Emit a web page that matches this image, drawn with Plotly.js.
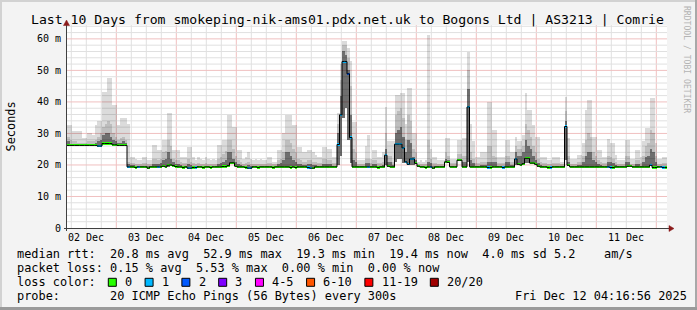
<!DOCTYPE html>
<html><head><meta charset="utf-8">
<script src="https://cdn.plot.ly/plotly-3.0.1.min.js"></script>
<style>html,body{margin:0;padding:0;background:#f3f3f3;}#chart{width:697px;height:310px;}</style>
</head><body><div id="chart"></div>
<script>
// time axis: hours since 02 Dec 00:00; graph spans 02 Dec 04:17 -> 12 Dec 04:17, one sample per hour
const startHour = 4.28;
const stepHours = 1;
const dayGridHours = [24,48,72,96,120,144,168,192,216,240];
const dayLabelHours = [12,36,60,84,108,132,156,180,204,228];
const dayLabels = ["02 Dec","03 Dec","04 Dec","05 Dec","06 Dec","07 Dec","08 Dec","09 Dec","10 Dec","11 Dec"];
const yTickVals = [0,10,20,30,40,50,60];
const yTickText = ["0","10 m","20 m","30 m","40 m","50 m","60 m"];

// median rtt (ms)
const median = [
26.2,26.2,26.2,26.2,26.2,26.2,26.2,26.2,26.2,26.2,
26.2,26.2,26.0,26.0,26.8,26.8,26.8,26.8,26.4,26.4,
26.2,26.2,26.2,26.2,19.4,19.4,19.4,19.2,19.4,19.4,
19.4,19.4,19.0,19.4,19.4,19.4,19.4,19.4,19.6,19.4,
19.9,20.0,19.8,19.5,19.4,19.4,19.2,19.4,19.0,19.0,
19.2,19.2,19.4,19.4,19.2,19.4,19.4,19.2,19.4,19.4,
19.4,19.4,19.5,19.5,19.8,20.7,20.7,19.6,19.4,19.4,
19.4,19.2,19.0,19.0,19.4,19.4,19.2,19.4,19.4,19.4,
19.4,19.4,19.2,19.4,19.4,19.4,19.4,19.4,19.4,19.2,
19.4,19.2,19.4,19.4,19.4,19.4,19.2,19.0,19.0,19.4,
19.4,19.4,19.4,19.4,19.4,19.4,19.4,19.4,26.5,35.9,
52.8,52.8,48.9,28.7,19.4,19.4,19.4,19.4,19.4,19.4,
19.4,19.4,19.4,19.4,19.2,19.4,19.4,23.1,19.6,19.4,
19.4,26.6,26.6,26.6,25.4,21.0,20.2,21.9,21.9,20.5,
19.6,19.4,19.4,19.2,19.4,19.4,19.0,19.4,19.4,19.4,
19.4,21.0,20.8,19.4,19.4,19.4,21.5,21.5,19.4,19.4,
38.4,19.4,19.4,19.4,19.4,19.4,19.4,19.4,19.2,19.2,
19.4,19.4,19.4,19.4,19.2,19.4,19.4,19.4,19.4,21.9,
20.2,20.0,20.4,22.1,22.1,20.6,20.6,20.2,19.6,19.4,
19.4,19.4,19.2,19.2,19.4,19.4,19.4,19.4,19.4,32.2,
19.9,19.4,19.4,19.4,19.4,19.4,19.4,19.4,19.4,19.4,
19.4,19.4,19.4,19.4,19.4,19.4,19.4,19.2,19.2,19.4,
19.4,19.4,19.4,19.4,19.6,19.6,19.4,19.4,19.4,19.4,
19.4,19.4,19.4,19.9,19.2,19.2,19.4,19.4,19.2,19.2];

// lost pings per sample (0..20)
const loss = [
0,0,0,0,0,0,0,0,0,0, 0,0,1,1,0,0,0,0,0,0, 0,0,0,0,1,0,0,0,1,0, 0,0,0,0,0,0,1,0,0,0,
0,0,0,0,0,0,0,0,1,1, 0,1,0,0,0,0,0,0,0,0, 0,0,0,0,0,0,0,0,0,0, 0,0,1,1,0,0,0,0,0,0,
0,0,0,0,0,0,0,0,0,0, 0,0,0,0,0,0,1,1,0,0, 0,0,0,0,0,0,0,0,1,1, 1,1,2,1,0,0,0,0,0,0,
1,0,0,0,0,0,0,1,0,0, 0,1,1,1,1,1,1,1,1,0, 0,0,0,0,0,1,0,0,0,0, 0,0,0,0,0,0,0,0,0,0,
1,0,0,0,0,0,0,0,1,0, 0,0,0,0,1,0,0,0,0,1, 0,0,0,0,0,0,0,0,0,0, 0,0,0,1,0,0,0,0,0,1,
0,0,0,0,0,0,0,0,0,0, 0,0,0,0,0,0,1,1,0,0, 0,0,0,0,0,0,0,0,0,0, 0,0,0,1,0,0,0,1,1,0];

// smoke: highest ping (ms)
const smokeHi = [
32.7,32.7,30.8,30.8,30.8,30.8,28.4,28.4,30.0,30.0,
29.5,32.7,33.8,33.8,43.0,43.0,47.7,47.7,39.0,39.0,
32.7,35.0,34.8,34.8,33.0,22.6,22.6,22.0,21.5,21.5,
22.6,22.6,21.5,21.5,26.3,26.3,24.7,24.7,27.9,27.9,
36.4,36.4,24.7,24.7,24.7,22.6,22.6,22.6,25.8,25.8,
22.6,21.5,22.6,22.0,21.5,22.6,22.0,21.5,22.0,21.5,
26.3,26.3,27.9,27.9,36.0,36.0,32.2,32.2,24.7,24.7,
22.0,22.6,24.0,22.0,21.5,22.0,21.5,22.0,21.5,21.5,
22.6,22.6,21.0,21.0,24.7,24.7,30.0,35.9,35.9,35.9,
32.7,32.7,25.8,25.8,24.0,24.0,24.7,24.7,24.0,23.3,
22.6,22.6,25.8,25.8,25.2,25.2,22.6,22.6,36.5,52.0,
59.4,59.4,57.0,53.0,33.7,33.7,21.5,21.5,21.5,26.0,
29.6,22.0,24.7,24.7,22.6,22.6,24.0,38.5,27.5,27.5,
27.5,42.3,42.3,42.8,42.8,33.0,44.3,44.3,30.0,30.0,
21.0,21.5,21.0,21.5,61.3,25.0,22.6,22.6,21.5,21.5,
21.5,28.6,28.6,22.0,22.0,22.0,28.0,28.0,28.6,28.6,
55.9,33.0,27.5,22.6,22.6,24.0,24.0,24.0,40.0,40.0,
31.0,31.0,22.6,22.6,22.6,28.0,28.0,24.0,24.0,28.8,
27.5,27.5,29.6,42.8,37.5,37.5,32.7,29.0,29.0,22.6,
22.6,22.6,21.5,21.5,22.6,22.6,22.6,21.0,21.0,41.7,
28.6,22.0,22.0,22.0,23.3,23.3,27.0,37.5,40.7,40.7,
29.0,29.0,24.7,24.7,22.6,22.6,28.3,27.0,27.0,23.3,
21.5,21.5,21.5,28.0,28.0,22.0,22.0,24.7,24.7,22.6,
27.5,31.6,31.6,41.4,41.4,27.0,22.0,22.0,22.6,22.6];

// smoke: upper middle of the ping spread (ms)
const smokeMid = [
29.0,28.0,27.5,27.5,27.0,27.0,27.0,27.0,27.5,27.5,
27.5,28.0,29.0,30.0,32.0,33.0,34.0,33.0,30.0,29.0,
28.0,28.5,29.0,28.0,21.0,20.5,20.5,20.2,20.2,20.2,
20.5,20.5,20.2,20.2,22.0,22.0,21.5,22.0,24.0,24.5,
28.0,26.0,22.0,21.5,21.5,21.0,20.5,20.5,22.0,21.0,
20.5,20.2,20.5,20.3,20.2,20.5,20.3,20.2,20.4,20.2,
22.0,22.5,23.5,24.5,28.0,28.0,25.0,23.0,21.5,21.0,
20.4,20.5,21.0,20.4,20.2,20.3,20.2,20.3,20.2,20.2,
20.5,20.5,20.2,20.2,21.5,22.0,24.0,28.0,28.0,27.0,
25.0,24.0,22.0,21.5,21.0,21.0,21.5,21.5,21.0,20.8,
20.5,20.5,22.0,22.0,21.5,21.5,20.5,20.5,33.0,47.0,
58.0,58.0,54.0,45.0,25.0,24.0,20.3,20.3,20.3,22.0,
22.0,20.5,21.5,21.5,20.5,20.5,21.0,30.0,23.0,23.0,
21.0,36.0,37.0,38.0,35.0,28.0,36.0,34.0,25.0,24.0,
20.2,20.3,20.2,20.3,28.0,22.0,20.5,20.5,20.2,20.2,
20.2,24.0,23.0,20.5,20.5,20.5,23.5,23.5,23.0,23.0,
50.0,24.0,22.0,20.5,20.5,21.0,21.0,21.0,26.0,26.0,
23.0,22.5,20.5,20.5,20.5,23.0,23.0,21.0,21.0,26.0,
25.0,25.0,26.0,33.0,31.0,29.0,26.0,24.0,22.0,20.8,
20.5,20.5,20.2,20.2,20.5,20.5,20.5,20.2,20.2,37.0,
23.0,20.4,20.4,20.4,20.8,20.8,23.0,28.0,30.0,29.0,
24.0,23.0,21.5,21.0,20.5,20.5,23.0,22.5,22.0,20.8,
20.2,20.2,20.2,23.0,23.0,20.4,20.4,21.5,21.5,20.5,
23.0,26.0,27.0,31.0,30.0,23.0,20.4,20.4,20.5,20.5];

// smoke: dense core of the ping spread (ms)
const smokeDark = [
27.5,26.8,26.5,26.5,26.5,26.5,26.5,26.5,26.5,26.5,
26.5,27.0,27.5,28.0,29.5,30.0,30.0,29.0,28.0,27.5,
27.0,27.0,27.5,27.0,20.2,20.0,20.0,19.8,19.8,19.8,
19.8,19.8,19.6,19.8,20.3,20.3,20.2,20.5,21.5,22.0,
24.0,22.0,20.8,20.3,20.2,20.0,19.8,19.8,20.2,20.0,
19.8,19.8,19.8,19.8,19.7,19.8,19.8,19.7,19.8,19.8,
20.3,20.5,21.0,21.5,24.0,24.0,22.0,20.8,20.2,20.0,
19.8,19.8,20.0,19.8,19.7,19.7,19.7,19.7,19.7,19.7,
19.8,19.8,19.7,19.7,20.2,20.5,21.5,24.0,24.0,23.0,
21.5,21.0,20.3,20.2,20.0,20.0,20.2,20.2,20.0,19.9,
19.8,19.8,20.3,20.3,20.2,20.2,19.8,19.8,30.0,42.0,
56.0,55.0,50.0,36.0,21.5,21.0,19.8,19.8,19.8,20.5,
20.5,19.8,20.2,20.2,19.8,19.8,20.0,25.0,21.0,21.0,
20.0,30.0,31.0,32.0,29.0,24.0,28.0,27.0,22.5,21.5,
19.8,19.8,19.8,19.8,21.0,20.5,19.8,19.8,19.7,19.7,
19.7,22.0,21.5,19.8,19.8,19.8,22.0,22.0,21.0,21.0,
44.0,21.5,20.5,19.8,19.8,20.0,20.0,20.0,21.0,21.0,
21.0,20.8,19.8,19.8,19.8,21.0,21.0,20.0,20.0,24.0,
23.0,23.0,24.0,28.0,26.0,25.0,23.0,21.5,20.5,20.0,
19.8,19.8,19.7,19.7,19.8,19.8,19.8,19.7,19.7,34.0,
21.0,19.8,19.8,19.8,20.0,20.0,21.0,23.0,24.0,24.0,
21.5,21.0,20.2,20.0,19.8,19.8,21.0,20.8,20.5,20.0,
19.7,19.7,19.7,21.0,21.0,19.8,19.8,20.2,20.2,19.8,
21.0,22.5,23.0,25.0,24.0,21.0,19.8,19.8,19.8,19.8];

// lowest ping where it sits clearly below the median: [sample index, ms]
const smokeLoOverride = [[40,19.5],[108,20],[109,23],[110,35],[111,38],[112,28],[113,20.5],
  [127,20],[131,21],[132,22],[133,22],[134,20.5],[137,20],[138,20],[160,21],[179,20],[183,20.5],[184,20.5],[199,21.5]];

const lossLabels = ["0","1","2","3","4-5","6-10","11-19","20/20"];
const lossColors = ["#26ff00","#00b8ff","#0059ff","#7e00ff","#ff00ff","#ff5500","#ff0000","#a00000"];
function lossColor(n){ if(n<=3) return lossColors[n]; if(n<=5) return lossColors[4]; if(n<=10) return lossColors[5]; if(n<20) return lossColors[6]; return lossColors[7]; }

const statsLine1 = "median rtt:  20.8 ms avg  52.9 ms max  19.3 ms min  19.4 ms now  4.0 ms sd 5.2    am/s";
const statsLine2 = "packet loss: 0.15 % avg  5.53 % max  0.00 % min  0.00 % now";
const probeLine = "probe:       20 ICMP Echo Pings (56 Bytes) every 300s";
const stampText = "Fri Dec 12 04:16:56 2025";
const titleText = "Last 10 Days from smokeping-nik-ams01.pdx.net.uk to Bogons Ltd | AS3213 | Comrie";

// ---------- build ----------
const xEnd = startHour + median.length * stepHours;
const yTop = 64.4;
const xs = median.map((_, j) => startHour + j * stepHours);
const lo = median.slice();
smokeLoOverride.forEach(([j, v]) => { lo[j] = v; });
function band(top, color){
  return {type:'bar', x:xs, base:lo, y:top.map((v,j)=>v-lo[j]), width:stepHours, offset:0,
    marker:{color:color, line:{width:0}}, hoverinfo:'skip'};
}
const traces = [
  band(smokeHi, 'rgba(0,0,0,0.14)'),
  band(smokeMid, 'rgba(0,0,0,0.13)'),
  band(smokeDark, 'rgba(0,0,0,0.42)'),
  {type:'scatter', mode:'lines', x:xs.concat([xEnd]), y:median.concat([median[median.length-1]]),
   line:{shape:'hv', color:'#000000', width:1}, hoverinfo:'skip'},
  {type:'bar', x:xs, base:median.map(v=>v-0.33), y:median.map(()=>0.66), width:stepHours, offset:0,
   marker:{color:loss.map(lossColor), line:{width:0}}, hoverinfo:'skip'}
];

// pixel -> paper helpers for decorations (plot area 67..667 x 25..228)
const PL=67, PR=667, PT=25, PB=228;
const px = x => (x-PL)/(PR-PL);
const py = y => (PB-y)/(PB-PT);
const nb = s => s.replace(/ /g, '\u00a0');
const mono = 'DejaVu Sans Mono';
const legendSize = 11.9, charW = 7.164;

const gridRed = '#f0c0c0';
const gridGray = '#e0e0e0';
const shapes = [];
// grid: gray every 6 h / 2 ms, red at day boundaries / every 10 ms
for (let h = 6; h < xEnd; h += 6) {
  if (h <= startHour) continue;
  const major = dayGridHours.indexOf(h) >= 0;
  shapes.push({type:'line', xref:'x', yref:'y', x0:h, x1:h, y0:0, y1:yTop, layer:'below',
    line:{color: major ? gridRed : gridGray, width:1}});
}
for (let v = 2; v < yTop; v += 2) {
  const major = yTickVals.indexOf(v) >= 0;
  shapes.push({type:'line', xref:'x', yref:'y', x0:startHour, x1:xEnd, y0:v, y1:v, layer:'below',
    line:{color: major ? gridRed : gridGray, width:1}});
}
shapes.push(
  {type:'rect', xref:'paper', yref:'paper', x0:px(0), x1:px(697), y0:py(0), y1:py(2), fillcolor:'#d2d2d2', line:{width:0}},
  {type:'rect', xref:'paper', yref:'paper', x0:px(0), x1:px(2), y0:py(0), y1:py(310), fillcolor:'#d2d2d2', line:{width:0}},
  {type:'rect', xref:'paper', yref:'paper', x0:px(695), x1:px(697), y0:py(0), y1:py(310), fillcolor:'#a8a8a8', line:{width:0}},
  {type:'rect', xref:'paper', yref:'paper', x0:px(0), x1:px(697), y0:py(307), y1:py(310), fillcolor:'#9a9a9a', line:{width:0}},
  {type:'line', xref:'paper', yref:'paper', x0:px(66.5), x1:px(66.5), y0:py(231), y1:py(23), line:{color:'#404040', width:1}},
  {type:'line', xref:'paper', yref:'paper', x0:px(64), x1:px(670), y0:py(228.5), y1:py(228.5), line:{color:'#404040', width:1}},
  {type:'path', xref:'paper', yref:'paper', path:`M ${px(63.5)} ${py(25.5)} L ${px(69.5)} ${py(25.5)} L ${px(66.5)} ${py(20)} Z`, fillcolor:'#8b1a1a', line:{color:'#8b1a1a', width:0.5}},
  {type:'path', xref:'paper', yref:'paper', path:`M ${px(669)} ${py(225.5)} L ${px(669)} ${py(231.5)} L ${px(674)} ${py(228.5)} Z`, fillcolor:'#8b1a1a', line:{color:'#8b1a1a', width:0.5}}
);

const annotations = [
  {xref:'paper', yref:'paper', x:px(10), y:py(126.5), text:'Seconds', textangle:-90, showarrow:false,
   font:{family:mono, size:11.9, color:'#000'}, xanchor:'center', yanchor:'middle'},
  {xref:'paper', yref:'paper', x:px(687), y:py(59), text:nb('RRDTOOL / TOBI OETIKER'), textangle:90, showarrow:false,
   font:{family:mono, size:8.1, color:'#b4b4b4'}, xanchor:'center', yanchor:'middle'},
  {xref:'paper', yref:'paper', x:px(15), y:py(254), text:nb(statsLine1), showarrow:false, font:{family:mono, size:legendSize, color:'#000'}, xanchor:'left', yanchor:'middle'},
  {xref:'paper', yref:'paper', x:px(15), y:py(268), text:nb(statsLine2), showarrow:false, font:{family:mono, size:legendSize, color:'#000'}, xanchor:'left', yanchor:'middle'},
  {xref:'paper', yref:'paper', x:px(15), y:py(282), text:nb('loss color:'), showarrow:false, font:{family:mono, size:legendSize, color:'#000'}, xanchor:'left', yanchor:'middle'},
  {xref:'paper', yref:'paper', x:px(15), y:py(296), text:nb(probeLine), showarrow:false, font:{family:mono, size:legendSize, color:'#000'}, xanchor:'left', yanchor:'middle'},
  {xref:'paper', yref:'paper', x:px(513), y:py(296), text:nb(stampText), showarrow:false, font:{family:mono, size:legendSize, color:'#000'}, xanchor:'left', yanchor:'middle'}
];
// day labels under the time axis, centred at noon of each day
dayLabelHours.forEach((h, k) => {
  annotations.push({xref:'x', yref:'paper', x:h, y:py(237), text:nb(dayLabels[k]), showarrow:false,
    font:{family:mono, size:10, color:'#000'}, xanchor:'center', yanchor:'middle'});
});
let bx = 108.3;
lossLabels.forEach((lab, k) => {
  shapes.push({type:'rect', xref:'paper', yref:'paper', x0:px(bx), x1:px(bx+8), y0:py(278.3), y1:py(286.3),
    fillcolor:lossColors[k], line:{color:'#000', width:1}});
  annotations.push({xref:'paper', yref:'paper', x:px(bx+14.7), y:py(282), text:lab, showarrow:false,
    font:{family:mono, size:legendSize, color:'#000'}, xanchor:'left', yanchor:'middle'});
  bx += 15.3 + (lab.length + 2) * charW;
});

const layout = {
  width:697, height:310,
  margin:{l:PL, r:697-PR, t:PT, b:310-PB, pad:0},
  paper_bgcolor:'#f3f3f3', plot_bgcolor:'#ffffff',
  barmode:'overlay', bargap:0, showlegend:false, hovermode:false,
  font:{family:mono, size:10, color:'#000'},
  title:{text:titleText, font:{family:mono, size:13.15, color:'#000'}, xref:'container', yref:'container', x:347.5/697, xanchor:'center', y:1-19/310, yanchor:'middle'},
  xaxis:{range:[startHour, xEnd], showticklabels:false, ticks:'', showgrid:false, zeroline:false, showline:false, fixedrange:true},
  yaxis:{range:[0, yTop], tickmode:'array', tickvals:yTickVals, ticktext:yTickText, ticks:'',
    showgrid:false, zeroline:false, showline:false,
    tickfont:{family:mono, size:10, color:'#000'}, ticklabelstandoff:5},
  shapes:shapes, annotations:annotations
};
Plotly.newPlot('chart', traces, layout, {staticPlot:true, displayModeBar:false});
</script></body></html>
